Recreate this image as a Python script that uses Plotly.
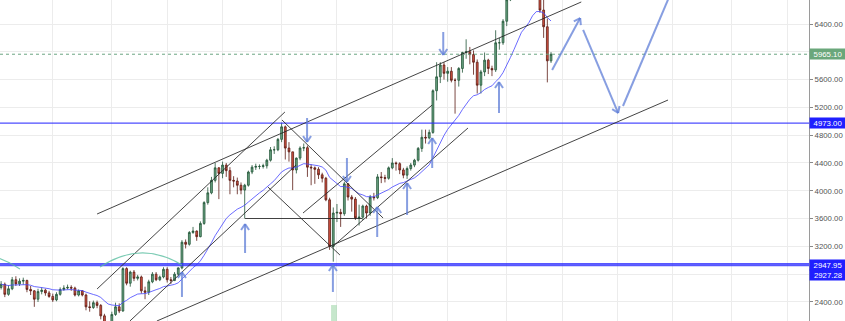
import plotly.graph_objects as go
import pandas as pd

# ---------------- data (daily candles, day 0 = first visible candle) ----------------
days = list(range(150))

opens = [2610, 2655, 2510, 2590, 2720, 2660, 2700, 2710, 2580, 2560,
         2440, 2550, 2570, 2530, 2480, 2430, 2510, 2580, 2600, 2610,
         2600, 2500, 2560, 2500, 2330, 2320, 2390, 2350, 2200, 1950,
         1940, 2220, 2330, 2270, 2880, 2670, 2830, 2740, 2760, 2560,
         2540, 2690, 2800, 2720, 2760, 2870, 2720, 2710, 2800, 2890,
         3260, 3230, 3400, 3420, 3340, 3530, 3830, 3970, 4150, 4330,
         4250, 4370, 4290, 4150, 4140, 4080, 4010, 4080, 4270, 4340,
         4350, 4350, 4360, 4440, 4590, 4590, 4740, 4920, 4615, 4560,
         4300, 4470, 4615, 4620, 4340, 4330, 4310, 4230, 4180, 3870,
         3200, 3680, 3690, 3670, 4100, 3910, 3880, 3610, 3620, 3780,
         3680, 3910, 3900, 4200, 4190, 4180, 4330, 4400, 4390, 4300,
         4225, 4320, 4370, 4440, 4610, 4770, 4760, 4840, 5440, 5640,
         5810, 5690, 5720, 5590, 5590, 5760, 5990, 6000, 5960, 5850,
         5520, 5710, 5880, 5760, 5740, 6130, 6130, 6440, 6750, 7030,
         7160, 7390, 7390, 6960, 7120, 7460, 7140, 6600, 6360, 5870]

highs = [2700, 2680, 2640, 2760, 2770, 2740, 2750, 2720, 2630, 2570,
         2590, 2610, 2590, 2560, 2520, 2540, 2610, 2640, 2650, 2640,
         2620, 2580, 2570, 2520, 2410, 2420, 2420, 2370, 2230, 2050,
         2260, 2390, 2380, 2900, 2900, 2850, 2860, 2790, 2780, 2620,
         2720, 2830, 2830, 2780, 2900, 2900, 2760, 2830, 2900, 3290,
         3300, 3420, 3480, 3430, 3560, 3850, 4050, 4200, 4400, 4340,
         4420, 4400, 4340, 4210, 4190, 4120, 4100, 4290, 4370, 4390,
         4380, 4390, 4460, 4630, 4640, 4760, 4980, 4940, 4700, 4560,
         4480, 4640, 4680, 4650, 4380, 4350, 4340, 4260, 4200, 3900,
         3760, 3810, 3740, 4130, 4110, 3940, 3910, 3800, 3800, 3800,
         3940, 3970, 4240, 4270, 4230, 4350, 4470, 4420, 4410, 4330,
         4350, 4400, 4460, 4630, 4880, 4880, 4880, 5460, 5850, 5850,
         5850, 5780, 5780, 5620, 5780, 6000, 6180, 6070, 6020, 5890,
         5740, 5990, 5900, 5800, 6310, 6200, 6470, 6800, 7100, 7300,
         7420, 7480, 7450, 7210, 7500, 7470, 7330, 6870, 6480, 5995]

lows = [2580, 2470, 2490, 2570, 2630, 2630, 2650, 2540, 2500, 2330,
        2400, 2510, 2490, 2460, 2400, 2410, 2490, 2560, 2580, 2560,
        2480, 2480, 2480, 2280, 2260, 2300, 2310, 2150, 1900, 1850,
        1930, 2200, 2240, 2260, 2640, 2620, 2700, 2710, 2520, 2440,
        2500, 2670, 2700, 2700, 2740, 2680, 2660, 2700, 2780, 2870,
        3170, 3210, 3380, 3280, 3330, 3510, 3800, 3950, 4120, 3880,
        4180, 4200, 3950, 4050, 3950, 3950, 3600, 4060, 4240, 4300,
        4310, 4320, 4320, 4420, 4530, 4570, 4700, 4450, 4420, 4010,
        4250, 4440, 4570, 4200, 4080, 4100, 4170, 4120, 3850, 3150,
        2980, 3550, 3480, 3640, 3860, 3700, 3580, 3500, 3580, 3600,
        3640, 3860, 3880, 4110, 4120, 4160, 4310, 4290, 4240, 4180,
        4170, 4290, 4340, 4420, 4560, 4680, 4740, 4820, 5300, 5550,
        5600, 5570, 5560, 5110, 5500, 5700, 5900, 5820, 5670, 5400,
        5400, 5650, 5680, 5650, 5710, 6030, 6100, 6370, 6730, 6960,
        7030, 7080, 6950, 6920, 7050, 7040, 6560, 6200, 5560, 5840]

closes = [2655, 2510, 2590, 2720, 2660, 2700, 2710, 2580, 2560, 2440,
          2550, 2570, 2530, 2480, 2430, 2510, 2580, 2600, 2610, 2600,
          2500, 2560, 2500, 2330, 2320, 2390, 2350, 2200, 1950, 1940,
          2220, 2330, 2270, 2880, 2670, 2830, 2740, 2760, 2560, 2540,
          2690, 2800, 2720, 2760, 2870, 2720, 2710, 2800, 2890, 3260,
          3230, 3400, 3420, 3340, 3530, 3830, 3970, 4150, 4330, 4250,
          4370, 4290, 4150, 4140, 4080, 4010, 4080, 4270, 4340, 4350,
          4350, 4360, 4440, 4590, 4590, 4740, 4920, 4615, 4560, 4300,
          4470, 4615, 4620, 4340, 4330, 4310, 4230, 4180, 3870, 3200,
          3680, 3690, 3670, 4100, 3910, 3880, 3610, 3620, 3780, 3680,
          3910, 3900, 4200, 4190, 4180, 4330, 4400, 4390, 4300, 4225,
          4320, 4370, 4440, 4610, 4770, 4760, 4840, 5440, 5640, 5810,
          5690, 5720, 5590, 5590, 5760, 5990, 6000, 5960, 5850, 5520,
          5710, 5880, 5760, 5740, 6130, 6130, 6440, 6750, 7030, 7160,
          7390, 7390, 6960, 7120, 7460, 7140, 6600, 6360, 5870, 5965.10]

ma_span = 20

last_price = 5965.10
level_top = 4973.00
level_low_a = 2947.95
level_low_b = 2927.28

price_ticks = [2400, 2800, 3200, 3600, 4000, 4400, 4800, 5200, 5600, 6000, 6400]
hidden_tick_labels = [2800, 6000]   # covered by the price labels in the reference
grid_days = [14, 30, 45, 60, 76, 91, 106, 121, 137, 152, 167, 182, 198, 213]

# drawings (day, price)
trend_lines = [
    ((26.0, 3666), (157.2, 6717)),
    ((26.0, 2587), (76.9, 5134)),
    ((34.9, 2126), (79.9, 4371)),
    ((42.2, 2126), (180.7, 5306)),
    ((81.8, 3680), (116.8, 5234)),
    ((89.7, 3191), (126.5, 4903)),
    ((76.1, 5019), (103.5, 3608)),
    ((72.3, 4054), (91.8, 3076)),
    ((66.1, 3601), (97.8, 3601)),
]
arrows = [
    ((49.0, 2472), (49.0, 2831)),
    ((66.1, 3105), (66.1, 3522)),
    ((82.9, 5047), (82.9, 4702)),
    ((93.7, 4472), (93.7, 4126)),
    ((89.9, 2544), (89.9, 2932)),
    ((101.9, 3335), (101.9, 3767)),
    ((110.0, 3652), (110.0, 4112)),
    ((116.8, 4328), (116.8, 4760)),
    ((119.8, 6285), (119.8, 5954)),
    ((134.9, 5119), (134.9, 5565)),
    ((149.3, 5738), (156.9, 6486)),
    ((157.7, 6314), (167.2, 5119)),
    ((168.5, 5220), (181.8, 6889)),
]
arcs = [
    ((-17.1, 2889), (-6.0, 3277), (5.1, 2875)),
    ((26.8, 2903), (37.9, 3292), (49.0, 2932)),
]
marker_span = ((89.4, 2356), (91.0, 2100))

# ---------------- figure ----------------
X_RANGE = [-0.3, 218.9]
Y_RANGE = [2126.2, 6745.4]
W, H = 845, 321
ML, MR, MT, MB = 0, 36, 0, 0
PW, PH = W - ML - MR, H - MT - MB
px_day = PW / (X_RANGE[1] - X_RANGE[0])
px_price = PH / (Y_RANGE[1] - Y_RANGE[0])

FONT = "Liberation Sans, Arial, sans-serif"

ma = pd.Series(closes).ewm(span=ma_span, adjust=False).mean()

fig = go.Figure()
fig.add_trace(go.Candlestick(
    x=days, open=opens, high=highs, low=lows, close=closes,
    increasing=dict(fillcolor="#6BA583", line=dict(color="#225437", width=0.8)),
    decreasing=dict(fillcolor="#D75442", line=dict(color="#5B1A13", width=0.8)),
    whiskerwidth=0, hoverinfo="skip", showlegend=False,
))
fig.add_trace(go.Scatter(
    x=days, y=ma, mode="lines",
    line=dict(color="rgba(70,70,255,0.8)", width=1),
    hoverinfo="skip", showlegend=False,
))

shapes = []
shapes.append(dict(type="line", xref="paper", yref="y", x0=0, x1=1, y0=last_price, y1=last_price,
                   line=dict(color="#6BA583", width=1, dash="dot"), layer="above"))
shapes.append(dict(type="line", xref="paper", yref="y", x0=0, x1=1, y0=level_top, y1=level_top,
                   line=dict(color="rgba(45,45,255,0.85)", width=1.2), layer="above"))
for lv in (level_low_a, level_low_b):
    shapes.append(dict(type="line", xref="paper", yref="y", x0=0, x1=1, y0=lv, y1=lv,
                       line=dict(color="rgba(45,45,255,0.8)", width=1.8), layer="above"))
for (x0, y0), (x1, y1) in trend_lines:
    shapes.append(dict(type="line", xref="x", yref="y", x0=x0, y0=y0, x1=x1, y1=y1,
                       line=dict(color="rgba(35,35,35,0.85)", width=1), layer="above"))
for (sx, sy), (cx, cy), (ex, ey) in arcs:
    shapes.append(dict(type="path", xref="x", yref="y",
                       path=f"M {sx},{sy} Q {cx},{cy} {ex},{ey}",
                       line=dict(color="rgba(90,190,160,0.8)", width=1.2), layer="above"))
ARROW_COLOR = "rgba(95,125,215,0.75)"
HEAD_LEN, HEAD_HALF = 6.0, 4.0
for (x0, y0), (x1, y1) in arrows:
    shapes.append(dict(type="line", xref="x", yref="y", x0=x0, y0=y0, x1=x1, y1=y1,
                       line=dict(color=ARROW_COLOR, width=2), layer="above"))
    dxp = (x1 - x0) * px_day
    dyp = -(y1 - y0) * px_price
    L = (dxp ** 2 + dyp ** 2) ** 0.5
    ux, uy = dxp / L, dyp / L
    for s in (1, -1):
        hx = -ux * HEAD_LEN + s * (-uy) * HEAD_HALF
        hy = -uy * HEAD_LEN + s * (ux) * HEAD_HALF
        shapes.append(dict(type="line", xref="x", yref="y",
                           x0=x1, y0=y1,
                           x1=x1 + hx / px_day, y1=y1 - hy / px_price,
                           line=dict(color=ARROW_COLOR, width=2), layer="above"))
(mx0, my0), (mx1, my1) = marker_span
shapes.append(dict(type="rect", xref="x", yref="y", x0=mx0, x1=mx1, y0=my1, y1=my0,
                   fillcolor="rgba(160,215,170,0.6)", line=dict(width=0), layer="above"))

annotations = []
def price_label(val, bg, yshift=0):
    annotations.append(dict(
        xref="paper", yref="y", x=1, y=val, xanchor="left", yanchor="middle",
        text=f"{val:.2f}", showarrow=False, bgcolor=bg, width=35, height=9,
        borderpad=0.5, yshift=yshift,
        font=dict(family=FONT, size=7.8, color="white"),
    ))

price_label(last_price, "#6AA77B")
price_label(level_top, "#1F1FFF")
price_label(level_low_a, "#1F1FFF", yshift=-1)
price_label(level_low_b, "#1F1FFF", yshift=-10)

fig.update_layout(
    width=W, height=H,
    margin=dict(l=ML, r=MR, t=MT, b=MB, pad=0),
    paper_bgcolor="white", plot_bgcolor="white",
    showlegend=False,
    shapes=shapes, annotations=annotations,
    font=dict(family=FONT, size=7.8, color="#555"),
    xaxis=dict(range=X_RANGE, tickvals=grid_days, showticklabels=False, ticks="",
               showgrid=True, gridcolor="#ececec", gridwidth=1, zeroline=False,
               rangeslider=dict(visible=False), showline=False, fixedrange=True),
    yaxis=dict(range=Y_RANGE, side="right", tickvals=price_ticks,
               ticktext=["" if v in hidden_tick_labels else f"{v:.2f}" for v in price_ticks],
               ticks="outside", ticklen=3, tickcolor="#888", tickwidth=1,
               showgrid=True, gridcolor="#ececec", gridwidth=1, zeroline=False,
               showline=True, linecolor="#9a9a9a", linewidth=1,
               tickfont=dict(family=FONT, size=7.8, color="#555"), fixedrange=True),
)

fig.write_html("out.html")
